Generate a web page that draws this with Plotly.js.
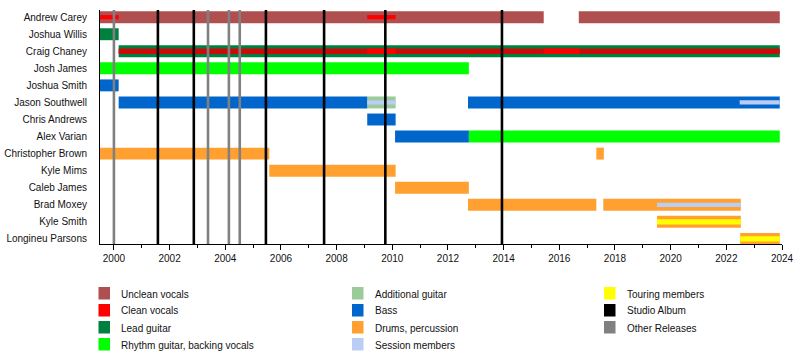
<!DOCTYPE html>
<html>
<head>
<meta charset="utf-8">
<script src="https://cdn.plot.ly/plotly-3.0.1.min.js"></script>
<style>html,body{margin:0;padding:0;background:#fff;}#chart{width:800px;height:364px;}</style>
</head>
<body>
<div id="chart"></div>
<script>
// ---- data ----
const members = ["Andrew Carey","Joshua Willis","Craig Chaney","Josh James","Joshua Smith","Jason Southwell","Chris Andrews","Alex Varian","Christopher Brown","Kyle Mims","Caleb James","Brad Moxey","Kyle Smith","Longineu Parsons"];

// [member, from, to]
const uncleanVocals = [["Andrew Carey",1999.5,2015.44],["Andrew Carey",2016.7,2023.92]];
const leadGuitar = [["Joshua Willis",1999.5,2000.17],["Craig Chaney",2000.17,2023.92]];
const rhythmGuitar = [["Josh James",1999.5,2012.75],["Alex Varian",2012.75,2023.92]];
const additionalGuitar = [["Jason Southwell",2009.1,2010.12]];
const bass = [["Joshua Smith",1999.5,2000.17],["Jason Southwell",2000.17,2009.1],["Chris Andrews",2009.1,2010.12],["Alex Varian",2010.1,2012.75],["Jason Southwell",2012.72,2023.92]];
const drums = [["Christopher Brown",1999.5,2005.58],["Christopher Brown",2017.33,2017.6],["Kyle Mims",2005.58,2010.12],["Caleb James",2010.1,2012.75],["Brad Moxey",2012.72,2017.33],["Brad Moxey",2017.58,2022.52],["Kyle Smith",2019.51,2022.52],["Longineu Parsons",2022.5,2023.92]];
const cleanVocalsAndrew = [["Andrew Carey",1999.5,2000.17],["Andrew Carey",2009.1,2010.12]];
const cleanVocalsCraig = [["Craig Chaney",2000.17,2023.92]];
const cleanVocalsCraigLead = [["Craig Chaney",2009.1,2010.12],["Craig Chaney",2015.44,2016.72]];
const sessionMembers = [["Jason Southwell",2009.1,2010.12],["Jason Southwell",2022.48,2023.92],["Brad Moxey",2019.51,2022.52]];
const touringMembers = [["Kyle Smith",2019.51,2022.52],["Longineu Parsons",2022.5,2023.92]];

const studioAlbums = [2001.58, 2002.87, 2005.46, 2007.55, 2009.75, 2013.94];
const otherReleases = [2000.0, 2003.38, 2004.13, 2004.52];

const legendLabels = ["Unclean vocals","Clean vocals","Lead guitar","Rhythm guitar, backing vocals","Additional guitar","Bass","Drums, percussion","Session members","Touring members","Studio Album","Other Releases"];
const legendColors = ["#b04f4f","#ff0000","#00803f","#00ff00","#99cc99","#0066cc","#ffa030","#bbcdf5","#ffff00","#000000","#808080"];

// ---- build ----
const C = {
  unclean:"#b04f4f", clean:"#ff0000", cleanDark:"#cc0a0a", lead:"#00803f", rhythm:"#00ff00",
  addl:"#99cc99", bass:"#0066cc", drums:"#ffa030", session:"#bbcdf5", touring:"#ffff00"
};
function barTrace(rows, color, width){
  return {
    type:"bar", orientation:"h",
    y: rows.map(r=>r[0]), base: rows.map(r=>r[1]), x: rows.map(r=>r[2]-r[1]),
    width: width, marker:{color: color, line:{width:0}},
    showlegend:false, hoverinfo:"skip"
  };
}
const traces = [
  barTrace(uncleanVocals, C.unclean, 0.7),
  barTrace(leadGuitar, C.lead, 0.7),
  barTrace(rhythmGuitar, C.rhythm, 0.7),
  barTrace(additionalGuitar, C.addl, 0.7),
  barTrace(bass, C.bass, 0.7),
  barTrace(drums, C.drums, 0.7),
  barTrace(cleanVocalsAndrew, C.clean, 0.25),
  barTrace(cleanVocalsCraig, C.cleanDark, 0.32),
  barTrace(cleanVocalsCraigLead, C.clean, 0.32),
  barTrace(sessionMembers, C.session, 0.25),
  barTrace(touringMembers, C.touring, 0.3)
];

const M = {l:100, r:18, t:10, b:120};
const W = 800, H = 364;
const pw = W - M.l - M.r, ph = H - M.t - M.b;
const px = X => (X - M.l) / pw;
const py = Y => (H - M.b - Y) / ph;

const shapes = [];
studioAlbums.forEach(x => shapes.push({type:"line", xref:"x", yref:"paper", x0:x, x1:x, y0:0, y1:1, line:{color:"#000000", width:2.6}, layer:"above"}));
otherReleases.forEach(x => shapes.push({type:"line", xref:"x", yref:"paper", x0:x, x1:x, y0:0, y1:1, line:{color:"#808080", width:2.6}, layer:"above"}));

const annotations = [];
const colX = [98.5, 352, 604];
const rowY = [294, 311, 328, 345];
legendLabels.forEach((lab, i) => {
  const col = Math.floor(i / 4), row = i % 4;
  const sx = colX[col], sy = rowY[row];
  shapes.push({type:"rect", xref:"paper", yref:"paper",
    x0:px(sx), x1:px(sx+11.5), y0:py(sy+5.5), y1:py(sy-7),
    fillcolor: legendColors[i], line:{width:0}});
  annotations.push({xref:"paper", yref:"paper", x:px(sx+20.5), y:py(sy),
    xanchor:"left", yanchor:"middle", text:lab, showarrow:false,
    font:{family:"Liberation Sans, Arial, sans-serif", size:10, color:"#111"}});
});

const layout = {
  width:W, height:H, margin:M, paper_bgcolor:"#fff", plot_bgcolor:"#fff",
  barmode:"overlay", showlegend:false,
  font:{family:"Liberation Sans, Arial, sans-serif", size:10, color:"#000"},
  xaxis:{range:[1999.5,2024], tick0:2000, dtick:2, ticks:"outside", ticklen:5, tickcolor:"#000", tickwidth:1,
    showline:true, linecolor:"#000", linewidth:1, showgrid:false, zeroline:false,
    minor:{dtick:1, ticks:"outside", ticklen:3, tickcolor:"#000", tickwidth:1, showgrid:false},
    tickfont:{size:10, color:"#111"}},
  yaxis:{type:"category", categoryorder:"array", categoryarray:members, range:[13.3,-0.42],
    showline:true, linecolor:"#000", linewidth:1, showgrid:false, zeroline:false, ticks:"",
    ticklabelstandoff:10, tickfont:{size:10, color:"#111"}},
  shapes: shapes, annotations: annotations
};
Plotly.newPlot("chart", traces, layout, {staticPlot:true, displayModeBar:false});
</script>
</body>
</html>
